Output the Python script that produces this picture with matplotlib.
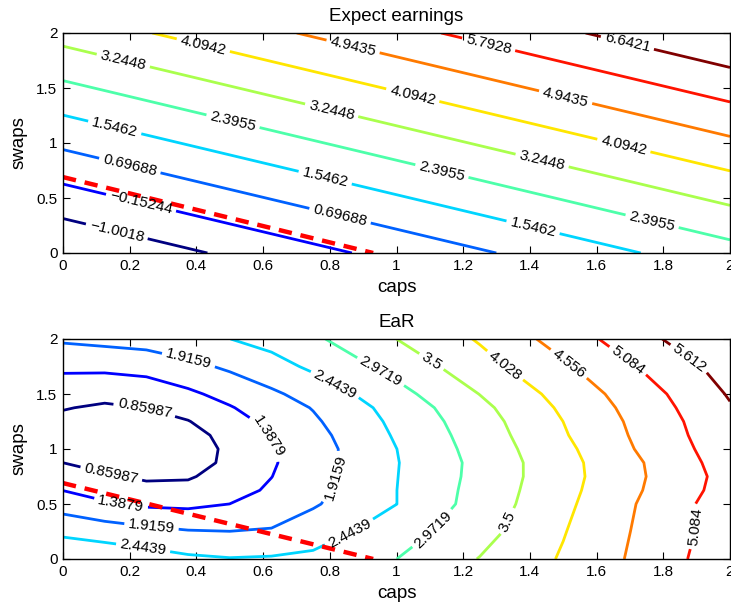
import numpy as np
import matplotlib
matplotlib.use('Agg')
import matplotlib.pyplot as plt
from matplotlib.ticker import FormatStrFormatter

plt.rcParams['font.family'] = ['Liberation Sans', 'DejaVu Sans']

# Expected earnings: a plane, given by its values at the four corners
earn_caps = [0.0, 2.0]
earn_swaps = [0.0, 2.0]
earn_values = [[-1.851, 2.071],
               [3.569, 7.491]]
earn_levels = [-1.0018, -0.15244, 0.69688, 1.5462, 2.3955,
               3.2448, 4.0942, 4.9435, 5.7928, 6.6421]

# EaR (rows = swaps, cols = caps)
ear_caps = [0.0, 0.125, 0.25, 0.375, 0.5, 0.625, 0.75, 1.0, 1.25, 1.5, 1.75, 2.0]
ear_swaps = [0.0, 0.25, 0.5, 0.625, 0.75, 0.875, 1.0, 1.125, 1.25, 1.375, 1.5, 1.75, 2.0]
ear_values = [
    [2.97, 2.83, 2.70, 2.54, 2.47, 2.50, 2.56, 2.97, 3.52, 4.08, 4.73, 5.45],
    [2.31, 2.19, 2.06, 1.95, 1.92, 1.96, 2.19, 2.72, 3.31, 4.00, 4.69, 5.37],
    [1.69, 1.45, 1.30, 1.27, 1.39, 1.60, 1.86, 2.44, 3.19, 3.91, 4.65, 5.39],
    [1.38, 1.19, 1.00, 1.01, 1.20, 1.46, 1.77, 2.44, 3.16, 3.87, 4.59, 5.31],
    [1.09, 0.92, 0.79, 0.81, 1.06, 1.38, 1.72, 2.43, 3.13, 3.84, 4.56, 5.28],
    [0.86, 0.70, 0.61, 0.65, 0.965, 1.33, 1.70, 2.42, 3.12, 3.85, 4.58, 5.34],
    [0.72, 0.54, 0.50, 0.60, 0.96, 1.35, 1.69, 2.44, 3.17, 3.90, 4.67, 5.39],
    [0.67, 0.49, 0.53, 0.67, 1.03, 1.42, 1.75, 2.50, 3.22, 3.98, 4.72, 5.45],
    [0.73, 0.59, 0.67, 0.84, 1.16, 1.53, 1.84, 2.56, 3.28, 4.03, 4.76, 5.49],
    [0.89, 0.78, 0.87, 1.05, 1.35, 1.66, 1.94, 2.64, 3.37, 4.11, 4.82, 5.57],
    [1.08, 1.02, 1.10, 1.29, 1.56, 1.83, 2.11, 2.80, 3.51, 4.21, 4.90, 5.66],
    [1.49, 1.50, 1.56, 1.78, 2.00, 2.25, 2.54, 3.15, 3.83, 4.47, 5.17, 5.84],
    [1.99, 2.07, 2.15, 2.29, 2.44, 2.62, 2.88, 3.50, 4.08, 4.78, 5.49, 6.14],
]
ear_levels = [0.85987, 1.3879, 1.9159, 2.4439, 2.9719,
              3.5, 4.028, 4.556, 5.084, 5.612]

# budget line (red dashed)
line_caps = [0.0, 0.93]
line_swaps = [0.69, 0.0]

# where the contour labels sit
earn_label_pos = [(0.16, 0.18), (0.235, 0.47), (0.2, 0.79), (0.83, 0.33),
                  (0.155, 1.14), (0.785, 0.67), (1.41, 0.24),
                  (0.51, 1.2), (1.135, 0.73), (1.765, 0.27),
                  (0.18, 1.74), (0.805, 1.29), (1.435, 0.82),
                  (0.42, 1.88), (1.05, 1.45), (1.68, 0.955),
                  (0.87, 1.88), (1.505, 1.39), (1.275, 1.88), (1.69, 1.88)]
ear_label_pos = [(0.245, 1.372), (0.145, 0.78), (0.175, 0.522), (0.61, 1.10),
                 (0.375, 1.797), (0.265, 0.285), (0.82, 0.734),
                 (0.24, 0.097), (0.865, 0.2), (0.815, 1.584),
                 (0.953, 1.706), (1.123, 0.234), (1.108, 1.81), (1.35, 0.319),
                 (1.323, 1.75), (1.518, 1.78), (1.688, 1.78), (1.898, 0.294),
                 (1.878, 1.827)]


def fmt(v):
    return ('%.5g' % v).replace('-', '\u2212')


def draw_panel(ax, xs, ys, zs, levels, label_pos, title):
    X, Y = np.meshgrid(xs, ys)
    cs = ax.contour(X, Y, np.array(zs), levels=levels, cmap='jet', linewidths=2.0)
    ax.clabel(cs, fmt=fmt, fontsize=11, inline=True, inline_spacing=4,
              colors='k', manual=label_pos)
    ax.plot(line_caps, line_swaps, 'r--', linewidth=3.2, dashes=(3, 2))
    ax.set_xlim(0, 2)
    ax.set_ylim(0, 2)
    ax.set_xticks(np.arange(0, 2.01, 0.2))
    ax.set_yticks([0, 0.5, 1, 1.5, 2])
    ax.xaxis.set_major_formatter(FormatStrFormatter('%g'))
    ax.yaxis.set_major_formatter(FormatStrFormatter('%g'))
    ax.tick_params(direction='in', top=True, right=True, labelsize=11,
                   length=5, width=0.8, pad=4)
    for sp in ax.spines.values():
        sp.set_linewidth(1.0)
    ax.set_xlabel('caps', fontsize=13.5, labelpad=4.5)
    ax.set_ylabel('swaps', fontsize=13.5, labelpad=6)
    ax.set_title(title, fontsize=13.5, pad=8.5)


fig = plt.figure(figsize=(7.31, 6.06), dpi=100)
ax1 = fig.add_axes([63 / 731, 1 - 253 / 606, 667 / 731, 220 / 606])
ax2 = fig.add_axes([63 / 731, 1 - 559 / 606, 667 / 731, 220 / 606])

draw_panel(ax1, earn_caps, earn_swaps, earn_values, earn_levels,
           earn_label_pos, 'Expect earnings')
draw_panel(ax2, ear_caps, ear_swaps, ear_values, ear_levels,
           ear_label_pos, 'EaR')

fig.savefig('out.png', dpi=100)
